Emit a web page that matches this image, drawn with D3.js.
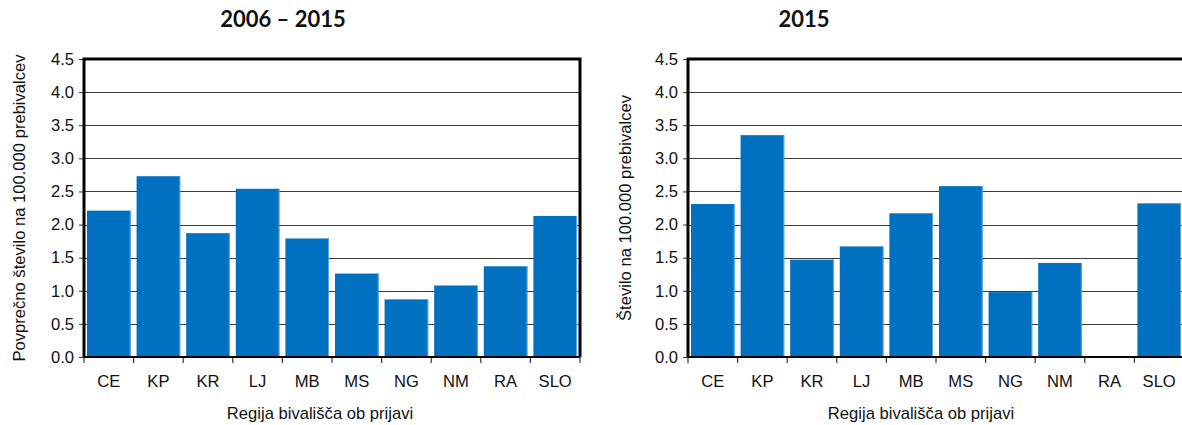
<!DOCTYPE html>
<html>
<head>
<meta charset="utf-8">
<script src="https://cdn.jsdelivr.net/npm/d3@7"></script>
<style>
  html, body { margin: 0; padding: 0; background: #fff; }
  svg { display: block; }
</style>
</head>
<body>
<svg id="chart" width="1182" height="425"></svg>
<script>
const categories = ["CE", "KP", "KR", "LJ", "MB", "MS", "NG", "NM", "RA", "SLO"];
const valuesAvg2006_2015 = [2.21, 2.73, 1.87, 2.54, 1.79, 1.26, 0.87, 1.08, 1.37, 2.13];
const values2015 = [2.31, 3.35, 1.47, 1.67, 2.17, 2.58, 0.98, 1.42, 0.0, 2.32];
const yTicks = [0, 0.5, 1, 1.5, 2, 2.5, 3, 3.5, 4, 4.5];
const titles = ["2006 \u2013 2015", "2015"];
const yLabels = ["Povprečno število na 100.000 prebivalcev", "Število na 100.000 prebivalcev"];
const xLabel = "Regija bivališča ob prijavi";

const svg = d3.select("#chart");
const BAR = "#0070C0";
const FS = 16.6;
const FONT = "Liberation Sans, Arial, sans-serif";

function drawChart(cfg) {
  const g = svg.append("g");
  const x = d3.scaleBand().domain(categories).range([cfg.x0, cfg.x1])
    .paddingInner(0.12).paddingOuter(0.06);
  const y = d3.scaleLinear().domain([0, 4.5]).range([cfg.yb, cfg.yt]);

  // gridlines
  g.append("g").selectAll("line").data(yTicks.filter(t => t > 0 && t < 4.5)).join("line")
    .attr("x1", cfg.x0).attr("x2", cfg.x1)
    .attr("y1", d => Math.round(y(d)) + 0.5).attr("y2", d => Math.round(y(d)) + 0.5)
    .attr("stroke", "#3a3a3a").attr("stroke-width", 1.2);

  // bars
  g.append("g").selectAll("rect").data(cfg.values).join("rect")
    .attr("x", (d, i) => x(categories[i]))
    .attr("width", x.bandwidth())
    .attr("y", d => y(d))
    .attr("height", d => y(0) - y(d))
    .attr("fill", BAR);
  // light edge on right of bars
  g.append("g").selectAll("line").data(cfg.values.map((v, i) => ({ v, c: categories[i] })).filter(o => o.v > 0)).join("line")
    .attr("x1", o => x(o.c) + x.bandwidth() - 0.5)
    .attr("x2", o => x(o.c) + x.bandwidth() - 0.5)
    .attr("y1", o => y(o.v)).attr("y2", y(0))
    .attr("stroke", "#5aa7e0").attr("stroke-width", 1);

  // y axis ticks + labels
  const yAxis = d3.axisLeft(y).tickValues(yTicks).tickSize(5).tickPadding(5)
    .tickFormat(d3.format(".1f"));
  const ya = g.append("g").attr("transform", `translate(${cfg.x0},0)`).call(yAxis);
  ya.select(".domain").remove();
  ya.selectAll(".tick line").attr("stroke", "#333");
  ya.selectAll("text").attr("font-family", FONT)
    .attr("font-size", FS).attr("fill", "#111");

  // x axis with ticks at band boundaries
  const step = x.step();
  const bounds = d3.range(categories.length + 1).map(i => cfg.x0 + i * step);
  g.append("g").selectAll("line").data(bounds).join("line")
    .attr("x1", d => d).attr("x2", d => d)
    .attr("y1", cfg.yb).attr("y2", cfg.yb + 6)
    .attr("stroke", "#333").attr("stroke-width", 1.2);
  g.append("g").selectAll("text").data(categories).join("text")
    .attr("x", d => x(d) + x.bandwidth() / 2)
    .attr("y", cfg.yb + 30)
    .attr("text-anchor", "middle")
    .attr("font-family", FONT)
    .attr("font-size", FS).attr("fill", "#111")
    .text(d => d);

  // bottom axis line
  g.append("line").attr("x1", cfg.x0).attr("x2", cfg.x1)
    .attr("y1", cfg.yb).attr("y2", cfg.yb)
    .attr("stroke", "#000").attr("stroke-width", 2.2);
  // frame: top, left, right thick
  g.append("path")
    .attr("d", `M${cfg.x0},${cfg.yb} L${cfg.x0},${cfg.yt} L${cfg.x1},${cfg.yt} L${cfg.x1},${cfg.yb}`)
    .attr("fill", "none").attr("stroke", "#000").attr("stroke-width", 3);

  // title
  g.append("text").attr("x", cfg.titleX).attr("y", 27)
    .attr("text-anchor", "middle")
    .attr("font-family", "Lato, 'Open Sans', sans-serif")
    .attr("font-weight", "bold").attr("font-size", 22).attr("fill", "#111")
    .text(cfg.title);

  // y label
  g.append("text")
    .attr("transform", `translate(${cfg.yLabelX},${(cfg.yt + cfg.yb) / 2}) rotate(-90)`)
    .attr("text-anchor", "middle").attr("dy", "0.35em")
    .attr("font-family", FONT)
    .attr("font-size", FS).attr("fill", "#111")
    .text(cfg.yLabel);

  // x label
  g.append("text").attr("x", cfg.xLabelX).attr("y", 419)
    .attr("text-anchor", "middle")
    .attr("font-family", FONT)
    .attr("font-size", FS).attr("fill", "#111")
    .text(xLabel);
}

drawChart({ x0: 84, x1: 580, yt: 59, yb: 357, values: valuesAvg2006_2015,
  title: titles[0], titleX: 283, yLabel: yLabels[0], yLabelX: 19, xLabelX: 320 });
drawChart({ x0: 688, x1: 1184, yt: 59, yb: 357, values: values2015,
  title: titles[1], titleX: 804, yLabel: yLabels[1], yLabelX: 625, xLabelX: 921 });
</script>
</body>
</html>
